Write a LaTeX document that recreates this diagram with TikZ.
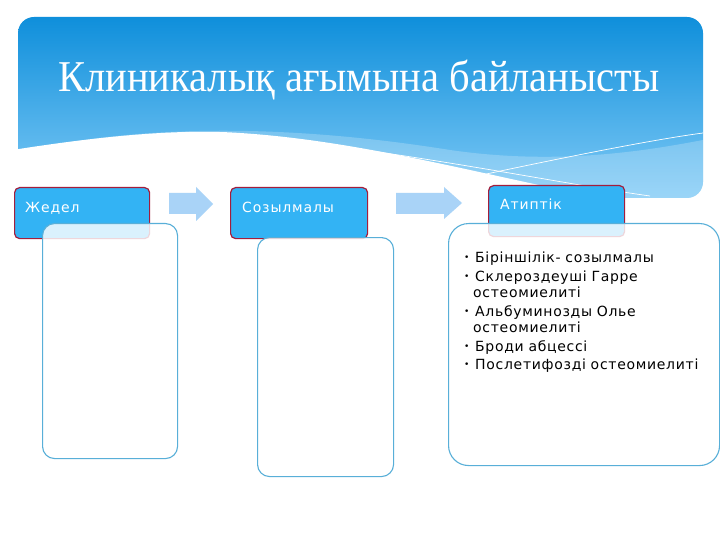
\documentclass[tikz,border=0pt]{standalone}
\usepackage{fontspec}
\setmainfont{Liberation Serif}
\newfontfamily\bodyfont[LetterSpace=5]{DejaVu Sans}
\newfontfamily\headfont[LetterSpace=6]{DejaVu Sans}
\definecolor{hdtop}{HTML}{0F8FDB}
\definecolor{hdbot}{HTML}{7FCAF6}
\definecolor{boxfill}{HTML}{33B3F4}
\definecolor{boxred}{HTML}{A31D3C}
\definecolor{boxline}{HTML}{58AFD8}
\definecolor{arrowc}{HTML}{A9D3F7}
\newcommand{\bul}{\makebox[11pt][l]{\raisebox{2pt}{\fontsize{9}{9}\selectfont•}}}
\tikzset{
  hdbox/.style={draw=boxred, fill=boxfill, line width=1.2pt, rounded corners=5pt,
    minimum width=#1, minimum height=51pt, inner sep=0pt, anchor=north west},
  hdtext/.style={text=white, font=\headfont\fontsize{14}{16}\selectfont, inner sep=0pt, anchor=base west},
  lowbox/.style={draw=boxline, fill=white, fill opacity=0.82, line width=1.1pt,
    anchor=north west, inner sep=0pt},
  arrowshape/.style={fill=arrowc, draw=none}
}
\begin{document}
\begin{tikzpicture}[x=1pt,y=-1pt]
\useasboundingbox (0,0) rectangle (720,540);
\fill[white] (0,0) rectangle (720,540);
% header banner
\begin{scope}
  \clip[rounded corners=16pt] (18,17) rectangle (703,198);
  \shade[top color=hdtop, bottom color=hdbot] (18,17) rectangle (703,198);
  \fill[white, opacity=0.22] (18,152) .. controls (150,122) and (300,126) .. (450,150)
      .. controls (560,166) and (650,150) .. (703,140) -- (703,198) -- (18,198) -- cycle;
  \draw[white, line width=0.7pt] (230,134) .. controls (400,150) and (550,182) .. (650,196);
  \draw[white, line width=0.7pt] (440,184) .. controls (550,160) and (650,140) .. (703,133);
\end{scope}
\fill[white] (0,152) .. controls (80,139) and (170,128) .. (240,133)
   .. controls (380,142) and (520,186) .. (630,202) -- (630,230) -- (0,230) -- cycle;
\node[text=white, font=\fontsize{44}{50}\selectfont, inner sep=0pt, anchor=base]
  (title) at (359,92) {\scalebox{0.92}[1]{Клиникалық ағымына байланысты}};
% arrows
\fill[arrowshape] (169,193) -- (196,193) -- (196,187) -- (213,204) -- (196,221) -- (196,214) -- (169,214) -- cycle;
\fill[arrowshape] (396,193) -- (444,193) -- (444,187) -- (462,203) -- (444,219) -- (444,214) -- (396,214) -- cycle;
% header boxes
\node[hdbox=135pt] (h1) at (14,187) {};
\node[hdbox=137pt] (h2) at (230,187) {};
\node[hdbox=136pt] (h3) at (488,185) {};
\node[hdtext] (t1) at ([xshift=11pt,yshift=-25pt]h1.north west) {Жедел};
\node[hdtext] (t2) at ([xshift=12pt,yshift=-25pt]h2.north west) {Созылмалы};
\node[hdtext] (t3) at ([xshift=12pt,yshift=-25pt]h3.north west) {Атиптік};
% lower boxes
\node[lowbox, rounded corners=12pt, minimum width=135pt, minimum height=235pt] (b1) at (42,223) {};
\node[lowbox, rounded corners=12pt, minimum width=136pt, minimum height=239pt] (b2) at (257,237) {};
\node[lowbox, rounded corners=20pt, minimum width=271pt, minimum height=242pt] (b3) at (448,223) {};
\node[anchor=north west, inner sep=0pt, text width=250pt, align=left,
      font=\bodyfont\fontsize{14}{16.5}\selectfont] (list) at ([xshift=16pt,yshift=-29pt]b3.north west)
{\setlength{\parskip}{2pt}%
\hangindent=9pt\hangafter=1 \bul Біріншілік- созылмалы\par
\hangindent=9pt\hangafter=1 \bul Склероздеуші Гарре остеомиелиті\par
\hangindent=9pt\hangafter=1 \bul Альбуминозды Олье остеомиелиті\par
\hangindent=9pt\hangafter=1 \bul Броди абцессі\par
\hangindent=9pt\hangafter=1 \bul Послетифозді остеомиелиті\par};
\end{tikzpicture}
\end{document}
